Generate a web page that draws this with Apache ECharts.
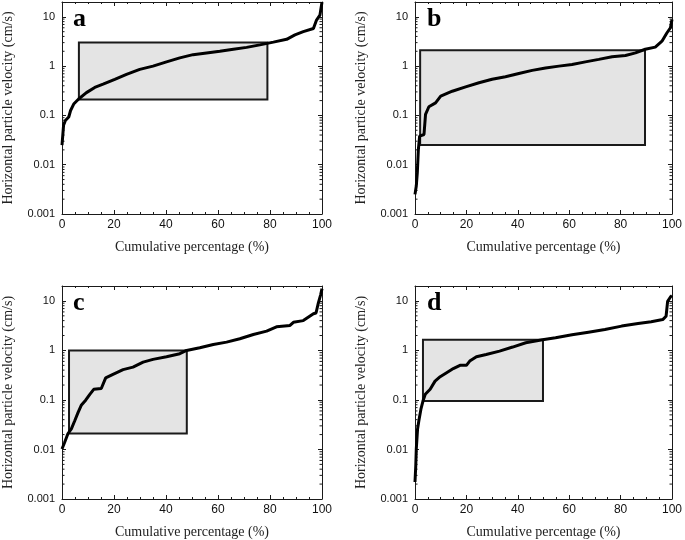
<!DOCTYPE html>
<html><head><meta charset="utf-8">
<script src="https://cdn.jsdelivr.net/npm/echarts@6/dist/echarts.min.js"></script>
<style>html,body{margin:0;padding:0;background:#fff}#c{width:685px;height:540px}</style>
</head><body><div id="c"></div><script>
// ---- data ----
const xTicks = [0, 20, 40, 60, 80, 100];
const yTickLabels = ['0.001', '0.01', '0.1', '1', '10'];
const yMin = 0.001, yMax = 20;
const panelLetters = ['a', 'b', 'c', 'd'];
const xTitle = 'Cumulative percentage (%)';
const yTitle = 'Horizontal particle velocity (cm/s)';

const pctA = [0,0.6,1.3,2.6,3.3,4.5,6.4,9.4,12.6,15.8,20.3,24.8,29.9,35,40.2,45.3,50.4,55.6,60.7,65.9,71,76.1,81.3,86.4,89.6,92.8,96.7,97.9,99.2,100];
const velA = [0.025,0.063,0.079,0.093,0.126,0.17,0.215,0.29,0.37,0.43,0.54,0.68,0.86,1.0,1.22,1.47,1.71,1.85,2.0,2.2,2.4,2.7,3.07,3.5,4.3,5.0,5.8,8.6,10.8,20];

const pctB = [0,0.5,0.9,1.3,1.8,3.5,4.1,5.4,8,10,14.5,19.7,24.9,30,35.2,40.4,45.6,50.8,56,61.1,66.3,71.5,76.7,81.9,85.8,89.6,93.5,96.1,98,99.4,100];
const velB = [0.0025,0.0037,0.0069,0.02,0.038,0.041,0.105,0.15,0.18,0.246,0.31,0.38,0.46,0.54,0.61,0.71,0.82,0.92,1.0,1.08,1.22,1.37,1.55,1.64,1.86,2.2,2.43,3.2,4.7,6.0,8.8];

const pctC = [0,1,2.3,3.6,4.9,6.2,7.4,9.1,10.7,12.2,15.1,16.8,19.6,23.5,27.3,31.2,35,40.2,45.3,47.9,53,58.2,63.3,68.4,73.6,78.7,82.5,87.7,89,92.8,96.7,97.7,98.6,99.5,100];
const velC = [0.0102,0.0138,0.021,0.026,0.038,0.056,0.078,0.099,0.13,0.164,0.17,0.28,0.33,0.41,0.46,0.58,0.66,0.745,0.86,1.0,1.13,1.32,1.47,1.72,2.1,2.45,3.0,3.2,3.7,4.0,5.5,5.7,9.1,13.4,17.7];

const pctD = [0,0.3,0.5,1,1.5,2.3,3.1,4,5.9,7.8,9.8,12.3,14.9,17.5,20,21.3,23.9,27.7,32.9,38,43.1,49.6,54.7,61.1,67.5,73.9,80.4,86.8,91.9,96.4,97.7,98.3,99.4,100];
const velD = [0.0022,0.0047,0.0102,0.026,0.038,0.065,0.095,0.13,0.164,0.24,0.295,0.355,0.43,0.5,0.5,0.61,0.745,0.83,0.97,1.17,1.43,1.64,1.8,2.07,2.34,2.65,3.1,3.5,3.8,4.2,4.9,9.8,12,12.8];

// boxes: [pctStart, velLow, pctEnd, velHigh]
const boxA = [6.5, 0.21, 79, 3.0];
const boxB = [2, 0.025, 89.5, 2.1];
const boxC = [2.7, 0.021, 48, 1.0];
const boxD = [3.1, 0.095, 49.8, 1.65];

const curves = [[pctA, velA], [pctB, velB], [pctC, velC], [pctD, velD]];
const boxes = [boxA, boxB, boxC, boxD];

// minor log ticks (2..9 per decade)
const minorVals = [];
yTickLabels.map(Number).forEach(d => { for (let k = 2; k <= 9; k++) { if (k * d < yMax) minorVals.push(+(k * d).toPrecision(3)); } });

// ---- layout ----
const grids = [
  { left: 62, top: 2, width: 260, height: 212 },
  { left: 415, top: 2, width: 258, height: 212 },
  { left: 62, top: 286, width: 260, height: 213 },
  { left: 415, top: 286, width: 259, height: 214 }
];
const letterPos = [[73, 6], [427, 6], [73, 290], [427, 290]];

const sans = 'Liberation Sans';
const serif = 'Liberation Serif';
const ink = '#1a1a1a';

const option = { animation: false, backgroundColor: '#fff', grid: [], xAxis: [], yAxis: [], series: [], graphic: [] };

grids.forEach((g, i) => {
  option.grid.push(Object.assign({ containLabel: false }, g));
  const common = { gridIndex: i, axisLine: { show: true, onZero: false, lineStyle: { color: ink, width: 1 } }, splitLine: { show: false } };
  // bottom x
  option.xAxis.push(Object.assign({}, common, {
    type: 'value', position: 'bottom', min: xTicks[0], max: xTicks[xTicks.length - 1], interval: 20,
    axisTick: { inside: true, length: 4, lineStyle: { color: ink } },
    minorTick: { show: true, splitNumber: 4, length: 2, lineStyle: { color: ink } },
    minorSplitLine: { show: false },
    axisLabel: { color: '#111', fontFamily: sans, fontSize: 12, margin: 5 },
    name: xTitle, nameLocation: 'middle', nameGap: 26,
    nameTextStyle: { fontFamily: serif, fontSize: 14, color: '#222' }
  }));
  // top x
  option.xAxis.push(Object.assign({}, common, {
    type: 'value', position: 'top', min: xTicks[0], max: xTicks[xTicks.length - 1], interval: 20,
    axisTick: { inside: true, length: 4, lineStyle: { color: ink } },
    minorTick: { show: true, splitNumber: 4, length: 2, lineStyle: { color: ink } },
    minorSplitLine: { show: false },
    axisLabel: { show: false }
  }));
  // left y
  option.yAxis.push(Object.assign({}, common, {
    type: 'log', logBase: 10, position: 'left', min: yMin, max: yMax,
    axisTick: { inside: true, length: 4, lineStyle: { color: ink } },
    axisLabel: {
      color: '#111', fontFamily: sans, fontSize: 11, margin: 7, showMaxLabel: false,
      formatter: v => { const s = yTickLabels.find(t => Math.abs(Number(t) - v) / v < 1e-6); return s || ''; }
    },
    name: yTitle, nameLocation: 'middle', nameGap: 47,
    nameTextStyle: { fontFamily: serif, fontSize: 14, color: '#222' }
  }));
  // right y
  option.yAxis.push(Object.assign({}, common, {
    type: 'log', logBase: 10, position: 'right', min: yMin, max: yMax,
    axisTick: { inside: true, length: 4, lineStyle: { color: ink } },
    axisLabel: { show: false }
  }));

  const xi = i * 2, yi = i * 2;
  const b = boxes[i];
  option.series.push({
    type: 'custom', xAxisIndex: xi, yAxisIndex: yi, z: 1, silent: true,
    data: [[b[0], b[1], b[2], b[3]]],
    encode: { x: [0, 2], y: [1, 3] },
    renderItem: (params, api) => {
      const p1 = api.coord([api.value(0), api.value(3)]);
      const p2 = api.coord([api.value(2), api.value(1)]);
      return { type: 'rect', shape: { x: p1[0], y: p1[1], width: p2[0] - p1[0], height: p2[1] - p1[1] },
        style: { fill: '#e4e4e4', stroke: '#1a1a1a', lineWidth: 2 } };
    }
  });
  option.series.push({
    type: 'custom', xAxisIndex: xi, yAxisIndex: yi, z: 2, silent: true,
    data: minorVals.map(v => [0, v]),
    encode: { x: 0, y: 1 },
    renderItem: (params, api) => {
      const v = api.value(1);
      const l = api.coord([xTicks[0], v]);
      const r = api.coord([xTicks[xTicks.length - 1], v]);
      return { type: 'group', children: [
        { type: 'line', shape: { x1: l[0], y1: l[1], x2: l[0] + 2.5, y2: l[1] }, style: { stroke: ink, lineWidth: 1 } },
        { type: 'line', shape: { x1: r[0] - 2.5, y1: r[1], x2: r[0], y2: r[1] }, style: { stroke: ink, lineWidth: 1 } }
      ] };
    }
  });
  const c = curves[i];
  option.series.push({
    type: 'line', xAxisIndex: xi, yAxisIndex: yi, z: 3, showSymbol: false, silent: true,
    data: c[0].map((x, k) => [x, c[1][k]]),
    lineStyle: { color: '#000', width: 3 }, clip: true
  });
  option.graphic.push({
    type: 'text', left: letterPos[i][0], top: letterPos[i][1], z: 10,
    style: { text: panelLetters[i], font: 'bold 26px "Liberation Serif"', fill: '#000' }
  });
});

const chart = echarts.init(document.getElementById('c'), null, { renderer: 'canvas' });
chart.setOption(option);
</script></body></html>
